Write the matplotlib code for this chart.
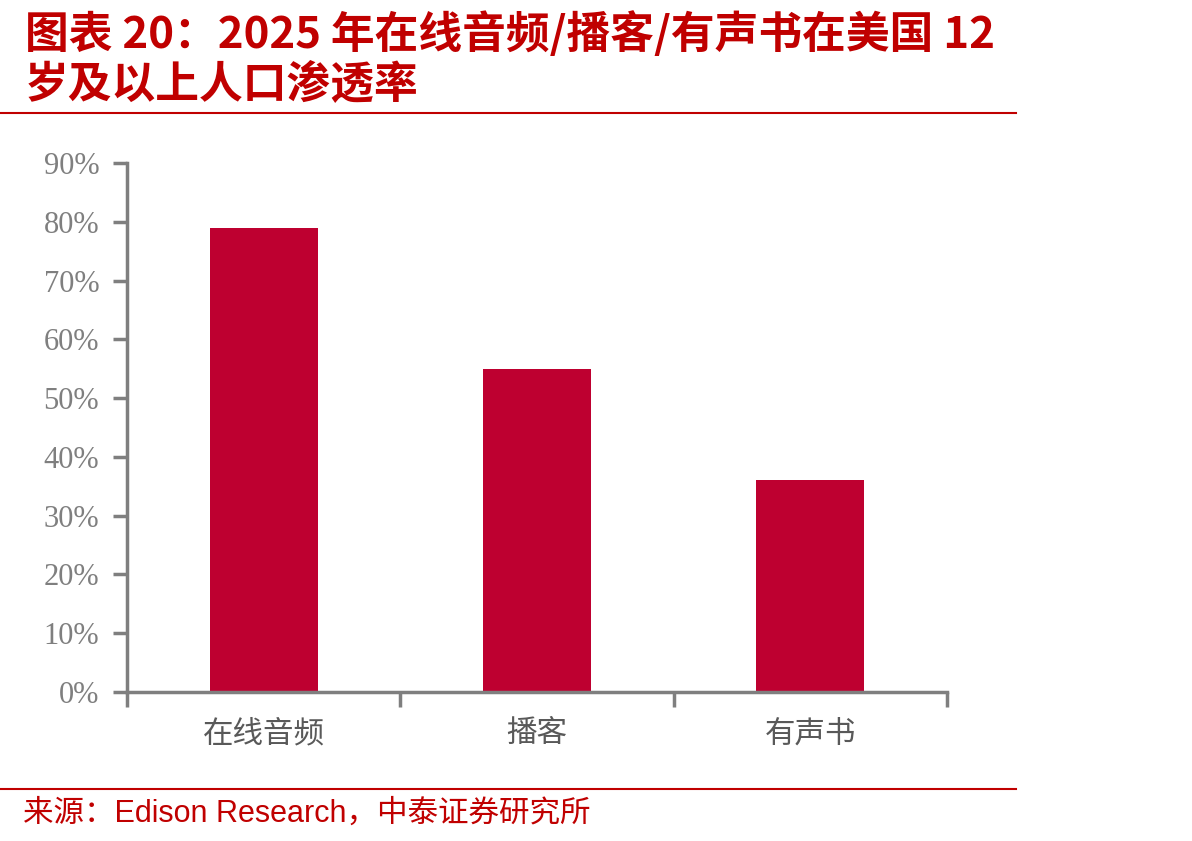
import matplotlib.pyplot as plt
from matplotlib.lines import Line2D

plt.rcParams['font.family'] = ['Noto Sans CJK SC', 'DejaVu Sans']

# data
categories = ['在线音频', '播客', '有声书']
penetration = [79, 55, 36]
yticks = [0, 10, 20, 30, 40, 50, 60, 70, 80, 90]
ytick_labels = [str(v) + '%' for v in yticks]

title_line1 = '图表 20：2025 年在线音频/播客/有声书在美国 12'
title_line2 = '岁及以上人口渗透率'
source = '来源：Edison Research，中泰证券研究所'

red = '#C00000'
bar_red = '#BE0030'
grey = '#7F7F7F'

fig = plt.figure(figsize=(11.92, 8.41), dpi=100)
ax = fig.add_axes([0.1065, 0.1772, 0.688, 0.629])

x = list(range(len(categories)))
ax.bar(x, penetration, width=0.395, color=bar_red)

ax.set_xlim(-0.5, len(categories) - 0.5)
ax.set_ylim(0, 90)
ax.set_yticks(yticks)
ax.set_yticklabels(ytick_labels, family='Liberation Serif', fontsize=22, color=grey)
ax.set_xticks(x)
ax.set_xticklabels(categories, fontsize=22, color='#595959', fontweight='light')
ax.set_xticks([i - 0.5 for i in range(len(categories) + 1)], minor=True)

ax.tick_params(axis='x', which='major', length=0, pad=19)
ax.tick_params(axis='x', which='minor', length=11, width=2.5, color=grey)
ax.tick_params(axis='y', length=10, width=2.5, color=grey, pad=10)

for s in ['top', 'right']:
    ax.spines[s].set_visible(False)
for s in ['left', 'bottom']:
    ax.spines[s].set_color(grey)
    ax.spines[s].set_linewidth(2.5)

# title and source
fig.text(0.021, 0.987, title_line1, fontsize=31.5, fontweight='bold', color=red,
         style='italic', va='top', ha='left')
fig.text(0.021, 0.925, title_line2, fontsize=31.5, fontweight='bold', color=red,
         style='italic', va='top', ha='left')
fig.add_artist(Line2D([0, 0.852], [0.866, 0.866], color=red, linewidth=1.5))
fig.add_artist(Line2D([0, 0.852], [0.062, 0.062], color=red, linewidth=1.5))
fig.text(0.019, 0.033, source, fontsize=22, color=red, va='center', ha='left',
         family=['Liberation Sans', 'Noto Sans CJK SC'])

plt.savefig('out.png', dpi=100)
